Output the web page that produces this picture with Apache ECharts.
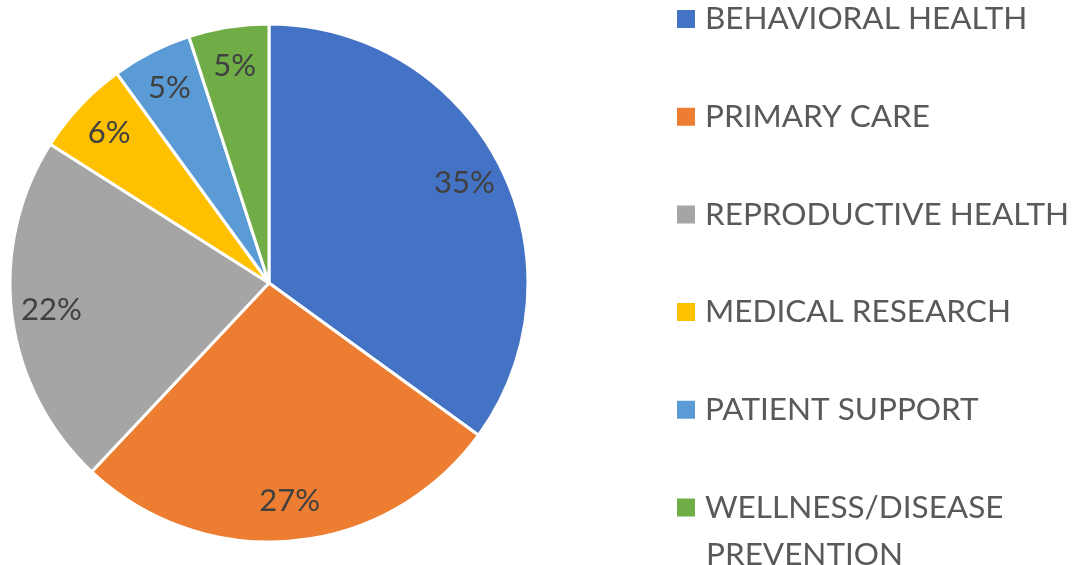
<!DOCTYPE html>
<html>
<head>
<meta charset="utf-8">
<script src="https://cdn.jsdelivr.net/npm/echarts@6/dist/echarts.min.js"></script>
<style>html,body{margin:0;padding:0;background:#fff;}#c{width:1075px;height:565px;}</style>
</head>
<body>
<div id="c"></div>
<script>
var categories = ['BEHAVIORAL HEALTH','PRIMARY CARE','REPRODUCTIVE HEALTH','MEDICAL RESEARCH','PATIENT SUPPORT','WELLNESS/DISEASE PREVENTION'];
var values = [35, 27, 22, 6, 5, 5];
var colors = ['#4472C4','#ED7D31','#A5A5A5','#FFC000','#5B9BD5','#70AD47'];
var legendLines = [['BEHAVIORAL HEALTH'],['PRIMARY CARE'],['REPRODUCTIVE HEALTH'],['MEDICAL RESEARCH'],['PATIENT SUPPORT'],['WELLNESS/DISEASE','PREVENTION']];

var FONT = 'Lato';
var data = categories.map(function(n,i){ return {name:n, value:values[i], itemStyle:{color:colors[i]}}; });
var labelData = categories.map(function(n,i){ return {name:n, value:values[i]}; });

var cx = 269, cy = 283, R = 259;
var legendTop = 0, lineH = 38, gap = 59.7;
var lastCenter = legendTop + lineH/2 + (categories.length-1)*(lineH+gap);

var chart = echarts.init(document.getElementById('c'), null, {renderer:'canvas'});
chart.setOption({
  animation:false,
  backgroundColor:'#fff',
  legend:{
    orient:'vertical', left:675, top:legendTop, padding:0,
    data:categories, icon:'rect', itemWidth:20, itemHeight:20, itemGap:gap,
    selectedMode:false,
    formatter:function(n){ var i=categories.indexOf(n); return legendLines[i][0]; },
    textStyle:{fontFamily:FONT, fontSize:31.5, color:'#595959', lineHeight:lineH, padding:[0,0,0,4]}
  },
  graphic:[{
    type:'text', left:706, top:lastCenter + 47 - lineH/2,
    style:{text:legendLines[5][1], fontFamily:FONT, fontSize:31.5, fill:'#595959', lineHeight:lineH}
  }],
  series:[{
    type:'pie', center:[cx,cy], radius:[0,R], startAngle:90, clockwise:true,
    data:data, label:{show:false}, labelLine:{show:false},
    itemStyle:{borderColor:'#fff', borderWidth:3}, silent:true
  },{
    type:'pie', center:[cx,cy], radius:[R*0.67,R], startAngle:90, clockwise:true,
    data:labelData, silent:true,
    itemStyle:{color:'rgba(0,0,0,0)', borderWidth:0},
    label:{show:true, position:'inside', formatter:'{c}%', fontFamily:FONT, fontSize:31, color:'#404040'},
    labelLine:{show:false}
  }]
});
</script>
</body>
</html>
